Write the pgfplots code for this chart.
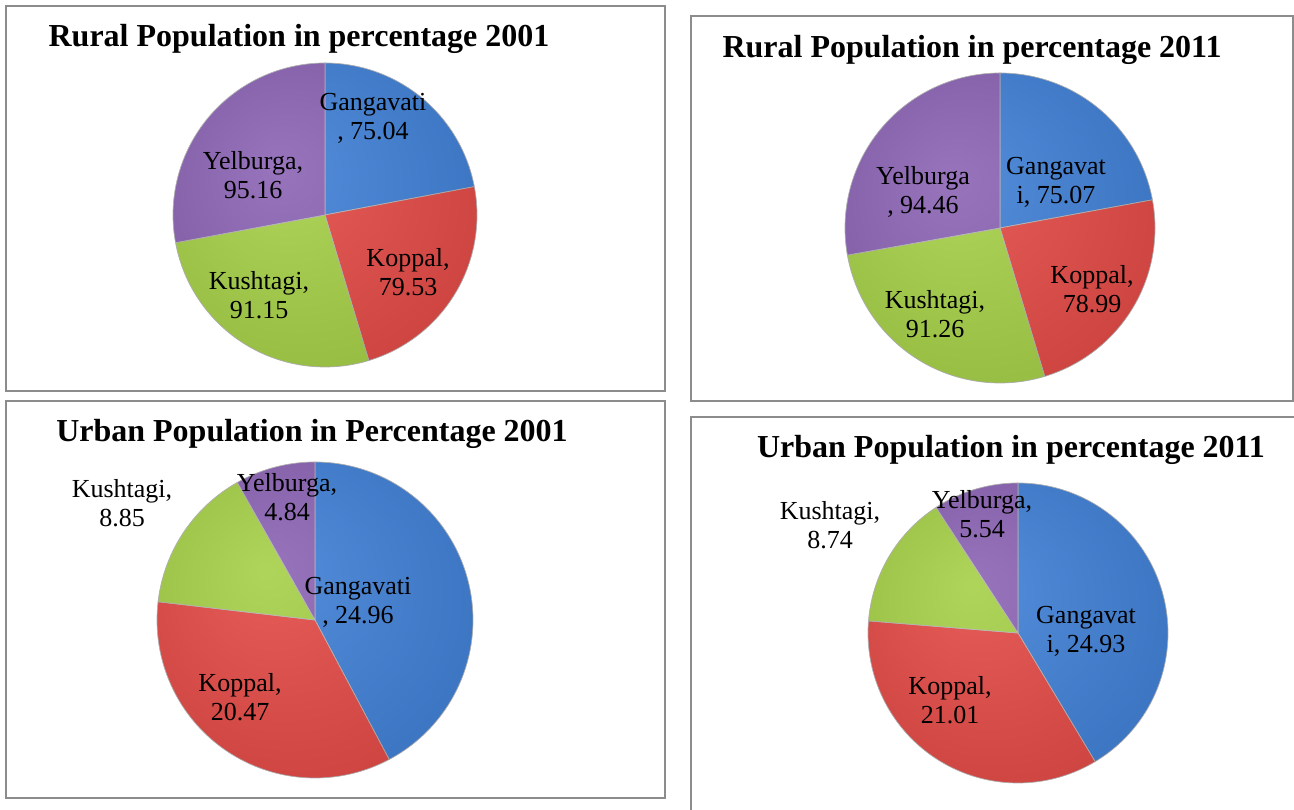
\documentclass[border=0pt]{standalone}
\usepackage{pgfplots}
\pgfplotsset{compat=1.18}
\usepackage{fontspec}
\setmainfont{Liberation Serif}
\definecolor{gblue}{RGB}{52,120,212}
\definecolor{gred}{RGB}{226,62,58}
\definecolor{ggreen}{RGB}{160,206,60}
\definecolor{gpurple}{RGB}{132,90,176}
\pgfdeclareradialshading{pieshade}{\pgfpoint{-8bp}{8bp}}{color(0bp)=(white); color(20bp)=(white!60!black); color(44bp)=(black!85); color(50bp)=(black)}
\newcommand\pieslice[6]{%
  \edef\doslice{\noexpand\addplot[fill=#6, draw=black!30, line width=0.7pt, domain=#4:#5, samples=90, variable=\noexpand\t] ({#1+#3*cos(\noexpand\t)},{#2+#3*sin(\noexpand\t)}) -- (axis cs:#1,#2) -- cycle;}%
  \doslice}
\newcommand\pie[7]{%
  \pgfmathsetmacro\pS{#4+#5+#6+#7}%
  \pgfmathsetmacro\pF{360/\pS}%
  \pgfmathsetmacro\pA{90-\pF*#4}%
  \pgfmathsetmacro\pB{\pA-\pF*#5}%
  \pgfmathsetmacro\pC{\pB-\pF*#6}%
  \pieslice{#1}{#2}{#3}{\pA}{90}{gblue}%
  \pieslice{#1}{#2}{#3}{\pB}{\pA}{gred}%
  \pieslice{#1}{#2}{#3}{\pC}{\pB}{ggreen}%
  \pieslice{#1}{#2}{#3}{-270}{\pC}{gpurple}%
  \edef\doshade{\noexpand\addplot[draw=none, shading=pieshade, shade, opacity=0.16, domain=0:360, samples=120, variable=\noexpand\t] ({#1+#3*cos(\noexpand\t)},{#2+#3*sin(\noexpand\t)}) -- cycle;}%
  \doshade}
\pgfplotsset{panel/.style={scale only axis, x=1pt, y=1pt, anchor=south west,
  xtick=\empty, ytick=\empty, clip=false,
  axis line style={draw=black!45, line width=1.6pt}}}
\tikzset{lab/.style={align=center, font=\fontsize{26}{29}\selectfont},
  ttl/.style={anchor=base, font=\fontsize{32}{36}\selectfont\bfseries}}
\begin{document}
\begin{tikzpicture}
% Top left
\begin{axis}[panel, at={(6pt,419pt)}, xmin=6, xmax=665, ymin=419, ymax=804]
\pie{325}{595}{152}{75.04}{79.53}{91.15}{95.16}
\node[ttl] at (axis cs:299,763) {Rural Population in percentage 2001};
\node[lab] at (axis cs:373,692) {Gangavati\\, 75.04};
\node[lab] at (axis cs:253,635) {Yelburga,\\95.16};
\node[lab] at (axis cs:408,538) {Koppal,\\79.53};
\node[lab] at (axis cs:259,515) {Kushtagi,\\91.15};
\end{axis}
% Top right
\begin{axis}[panel, at={(691pt,409pt)}, xmin=691, xmax=1293, ymin=409, ymax=794]
\pie{1000}{582}{155}{75.07}{78.99}{91.26}{94.46}
\node[ttl] at (axis cs:972,752) {Rural Population in percentage 2011};
\node[lab] at (axis cs:1056,628) {Gangavat\\i, 75.07};
\node[lab] at (axis cs:923,618) {Yelburga\\, 94.46};
\node[lab] at (axis cs:1092,521) {Koppal,\\78.99};
\node[lab] at (axis cs:935,496) {Kushtagi,\\91.26};
\end{axis}
% Bottom left
\begin{axis}[panel, at={(6pt,12pt)}, xmin=6, xmax=665, ymin=12, ymax=409]
\pie{315}{190}{158}{24.96}{20.47}{8.85}{4.84}
\node[ttl] at (axis cs:312,368) {Urban Population in Percentage 2001};
\node[lab] at (axis cs:287,313) {Yelburga,\\4.84};
\node[lab] at (axis cs:358,208) {Gangavati\\, 24.96};
\node[lab] at (axis cs:240,113) {Koppal,\\20.47};
\node[lab] at (axis cs:122,307) {Kushtagi,\\8.85};
\end{axis}
% Bottom right
\begin{axis}[panel, at={(691pt,-5pt)}, xmin=691, xmax=1300, ymin=-5, ymax=393]
\pie{1018}{177}{150}{24.93}{21.01}{8.74}{5.54}
\node[ttl] at (axis cs:1011,352) {Urban Population in percentage 2011};
\node[lab] at (axis cs:982,296) {Yelburga,\\5.54};
\node[lab] at (axis cs:1086,179) {Gangavat\\i, 24.93};
\node[lab] at (axis cs:950,110) {Koppal,\\21.01};
\node[lab] at (axis cs:830,285) {Kushtagi,\\8.74};
\end{axis}
\pgfresetboundingbox
\useasboundingbox (0,0) rectangle (1294pt,810pt);
\end{tikzpicture}
\end{document}
